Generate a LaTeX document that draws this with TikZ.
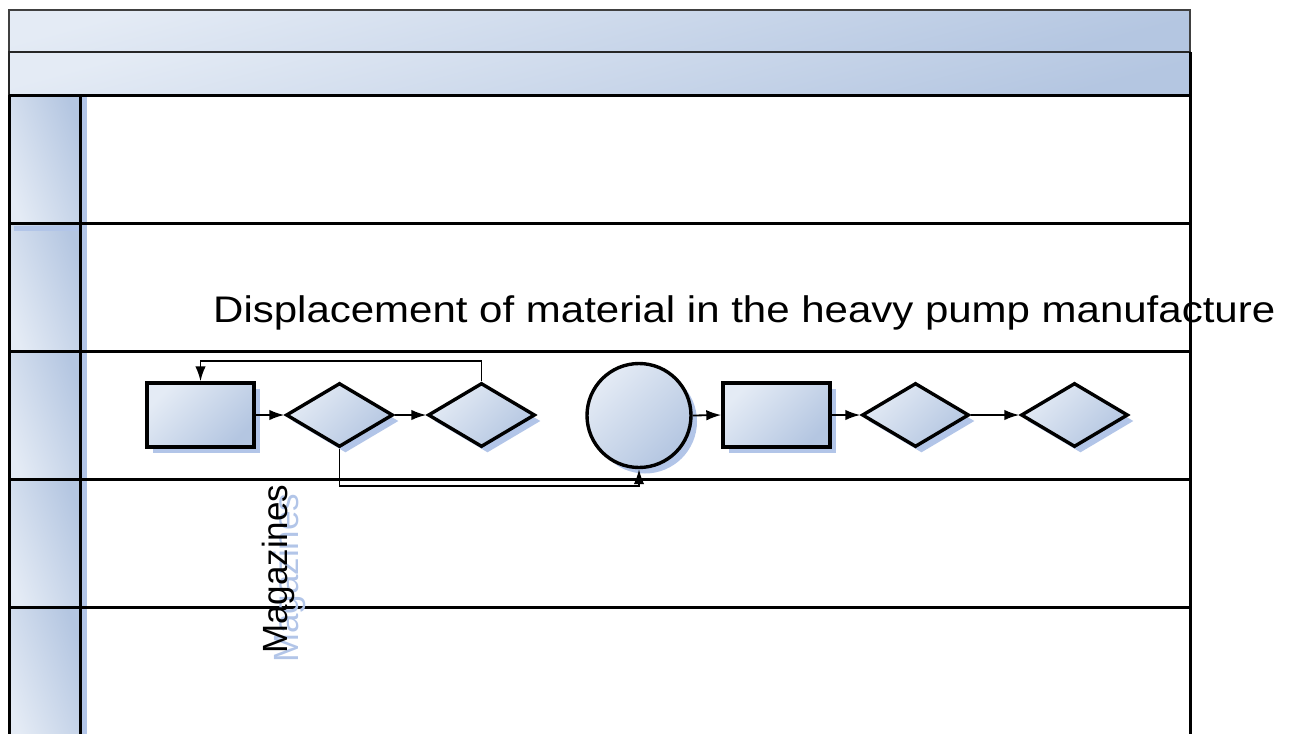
\documentclass[tikz,border=0pt]{standalone}
\usepackage{fontspec}
\setmainfont{Liberation Sans}
\usetikzlibrary{arrows.meta,shapes.geometric,shadows}
\definecolor{hl}{HTML}{E4EBF5}
\definecolor{hd}{HTML}{B4C6E1}
\definecolor{shd}{HTML}{B2C5E8}
\tikzset{
  shp/.style={draw=black, line width=3.4, top color=hl, bottom color=hd, shading angle=45,
    drop shadow={shadow xshift=6pt, shadow yshift=-6pt, fill=shd, opacity=1}},
  boxnode/.style={shp, rectangle, minimum width=107, minimum height=64, inner sep=0},
  dia/.style={shp, diamond, aspect=1.67, minimum width=107, minimum height=64, inner sep=0},
  circ/.style={shp, circle, minimum size=104, inner sep=0},
  conn/.style={line width=1.8, -{Latex[length=15,width=10.5]}},
  lane/.style={line width=3},
  big/.style={font=\fontsize{37}{44}\selectfont, inner sep=0},
}
\begin{document}
\begin{tikzpicture}[x=1pt,y=-1pt]
\useasboundingbox (0,0) rectangle (1294,734);
\clip (0,0) rectangle (1294,734);
% pool header bars
\shade[top color=hl, bottom color=hd, shading angle=15, draw=black!75, line width=1.5] (9,10) rectangle (1190,52);
\shade[top color=hl, bottom color=hd, shading angle=15, draw=black!85, line width=1.5] (9,52) rectangle (1190,95);
% lane header cells
\foreach \ya/\yb in {95/223,223/351,351/479,479/607,607/740}{
  \shade[left color=hl, right color=hd, shading angle=110] (9,\ya) rectangle (80,\yb);
}
% header shadows
\fill[shd] (81,97) rectangle (87,740);
\fill[shd] (14,226) rectangle (87,231);
% lane lines
\foreach \y in {95,223,351,479,607}{
  \draw[lane] (9,\y) -- (1190,\y);
}
\draw[lane] (9,95) -- (9,740);
\draw[lane] (80,95) -- (80,740);
\draw[lane] (1190,52) -- (1190,740);
% title
\node[big, anchor=base west, xscale=1.135] (title) at (213,322) {Displacement of material in the heavy pump manufacture};
% Magazines with shadow
\node[big, font=\fontsize{35}{42}\selectfont, rotate=90, anchor=base west, text=shd] (magshadow) at (298,663) {Magazines};
\node[big, font=\fontsize{35}{42}\selectfont, rotate=90, anchor=base west] (mag) at (287,654) {Magazines};
% shapes
\node[boxnode] (r1) at (200.5,415) {};
\node[dia] (d1) at (339.5,415) {};
\node[dia] (d2) at (481.5,415) {};
\node[circ] (c) at (639,415.5) {};
\node[boxnode] (r2) at (776.5,415) {};
\node[dia] (d3) at (915.5,415) {};
\node[dia] (d4) at (1074.5,415) {};
% connectors
\draw[conn] (r1.east) -- (d1.west);
\draw[conn] (d1.east) -- (d2.west);
\draw[conn] (d2.north) -- ++(0,-20) -| (r1.north);
\draw[conn] (d1.south) -- ++(0,37) -| (c.south);
\draw[conn] (c.east) -- (r2.west);
\draw[conn] (r2.east) -- (d3.west);
\draw[conn] (d3.east) -- (d4.west);
\end{tikzpicture}
\end{document}
